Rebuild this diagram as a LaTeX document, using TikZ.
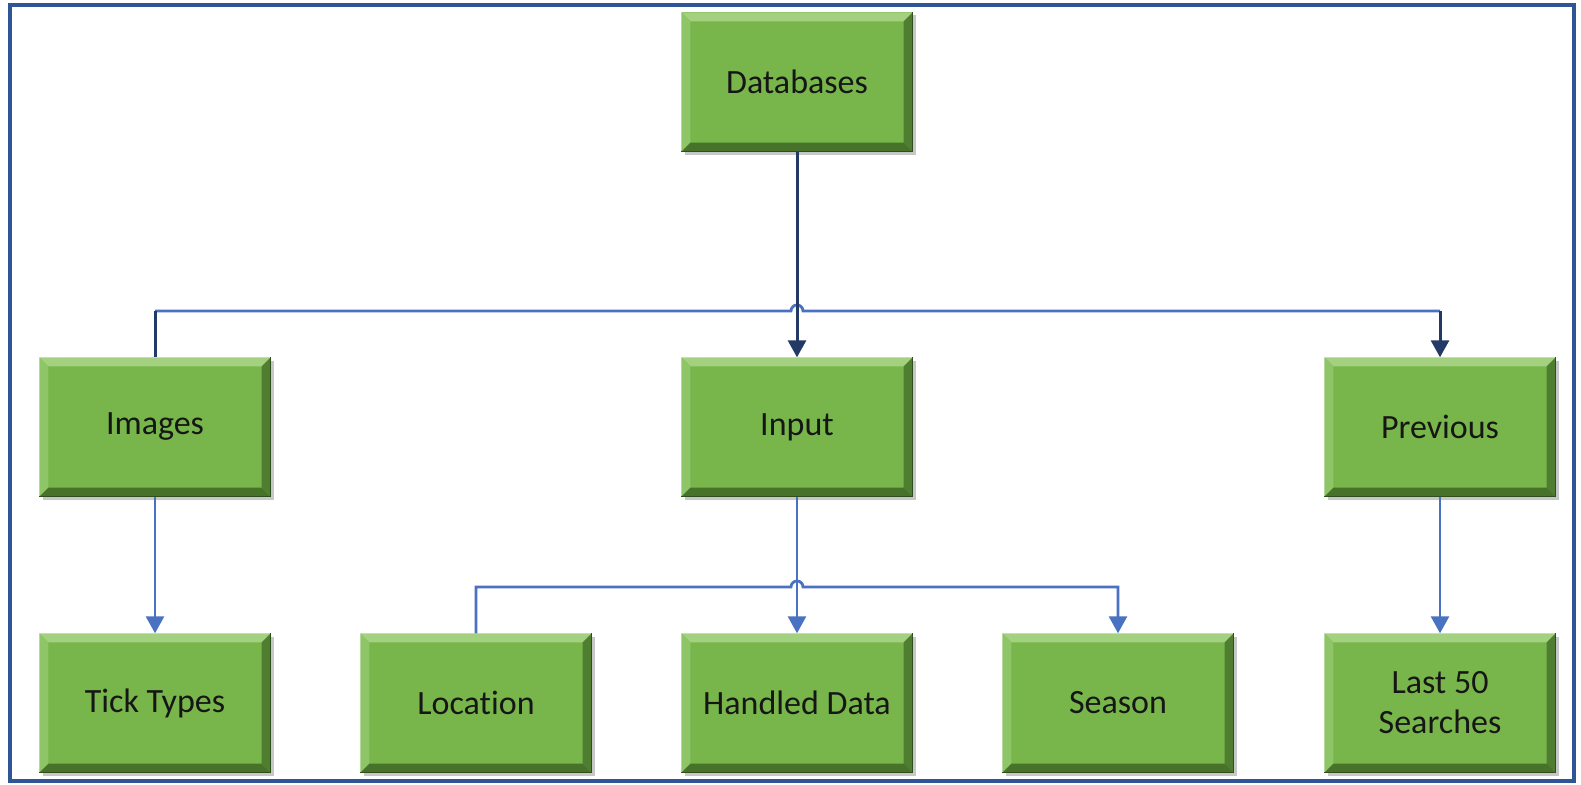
\documentclass[tikz,border=0pt]{standalone}
\usepackage{fontspec}
\setmainfont[Ligatures=NoCommon]{Carlito}
\usetikzlibrary{arrows.meta,shadows}

\definecolor{facegreen}{HTML}{78B64B}
\definecolor{bevtop}{HTML}{A4D180}
\definecolor{bevleft}{HTML}{8EC567}
\definecolor{bevright}{HTML}{4F7E31}
\definecolor{bevbot}{HTML}{46722A}
\definecolor{edgedark}{HTML}{2F4F1E}
\definecolor{textdark}{HTML}{161616}
\definecolor{navy}{HTML}{243A66}
\definecolor{linkblue}{HTML}{4A72C2}
\definecolor{frameblue}{HTML}{2F5597}

\begin{document}
\begin{tikzpicture}[x=1pt,y=-1pt,
  box/.style={rectangle, fill=facegreen, minimum width=231pt, minimum height=139pt,
    inner sep=0pt, align=center, font=\fontsize{34}{40}\selectfont, text=textdark,
    drop shadow={shadow xshift=3pt, shadow yshift=-3pt, fill=black, opacity=.22}},
  navyline/.style={draw=navy, line width=3pt, line join=miter},
  blueline/.style={draw=linkblue, line width=2.8pt, line join=miter},
  tip/.style={-{Triangle[width=18pt,length=17pt]}}
]
\useasboundingbox (0,0) rectangle (1581,784);
\fill[white] (0,0) rectangle (1581,784);

% outer frame
\draw[frameblue, line width=3.5pt] (10,5) rectangle (1574,781);

% boxes
\node[box] (db)   at (797,82)   {Databases};
\node[box] (img)  at (155,427)  {Images};
\node[box] (inp)  at (797,427)  {Input};
\node[box] (prev) at (1440,427) {Previous};
\node[box] (tick) at (155,703)  {Tick Types};
\node[box] (loc)  at (476,703)  {Location};
\node[box] (hand) at (797,703)  {Handled Data};
\node[box] (seas) at (1118,703) {Season};
\node[box] (last) at (1440,703) {Last 50\\Searches};

% bevelled edges of every box
\foreach \n in {db,img,inp,prev,tick,loc,hand,seas,last}{
  \fill[bevtop] (\n.north west) -- (\n.north east) -- ([shift={(-9,9)}]\n.north east)
    -- ([shift={(9,9)}]\n.north west) -- cycle;
  \fill[bevleft] (\n.north west) -- ([shift={(9,9)}]\n.north west)
    -- ([shift={(9,-9)}]\n.south west) -- (\n.south west) -- cycle;
  \fill[bevright] (\n.north east) -- ([shift={(-9,9)}]\n.north east)
    -- ([shift={(-9,-9)}]\n.south east) -- (\n.south east) -- cycle;
  \fill[bevbot] (\n.south west) -- ([shift={(9,-9)}]\n.south west)
    -- ([shift={(-9,-9)}]\n.south east) -- (\n.south east) -- cycle;
  \draw[edgedark, line width=1pt] (\n.north east) -- (\n.south east) -- (\n.south west);
}

% bus levels
\coordinate (busa) at (0,311);
\coordinate (busb) at (0,587);

% upper bus: Images -- Previous, hopping over the Databases line
\draw[blueline] (img.north |- busa) -- ([xshift=-6pt]db.south |- busa)
  arc[start angle=180, end angle=0, radius=6pt] -- (prev.north |- busa);
\draw[navyline] (img.north) -- (img.north |- busa);
\draw[navyline, tip] (prev.north |- busa) -- (prev.north);
\draw[navyline, tip] (db.south) -- (inp.north);

% lower bus: Location -- Season, hopping over the Input line
\draw[blueline, tip] (loc.north) -- (loc.north |- busb)
  -- ([xshift=-6pt]inp.south |- busb)
  arc[start angle=180, end angle=0, radius=6pt] -- (seas.north |- busb) -- (seas.north);
\draw[blueline, tip] (inp.south) -- (hand.north);
\draw[blueline, tip] (img.south) -- (tick.north);
\draw[blueline, tip] (prev.south) -- (last.north);
\end{tikzpicture}
\end{document}
